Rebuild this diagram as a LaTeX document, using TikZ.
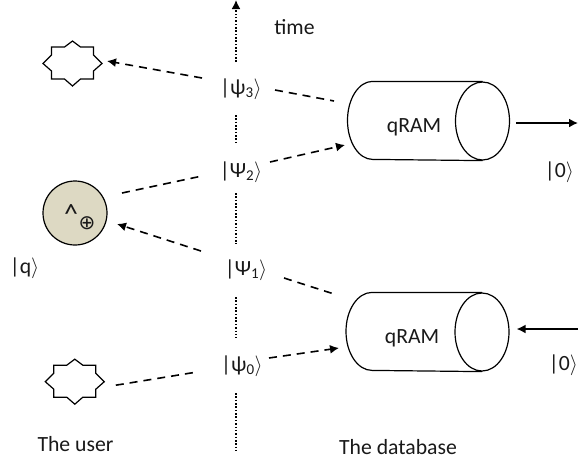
\documentclass[tikz,border=0pt]{standalone}
\usepackage{fontspec}
\setmainfont{Carlito}
\newfontfamily\symfont{DejaVu Sans}
\usetikzlibrary{arrows.meta,shapes.geometric}
\definecolor{khaki}{HTML}{DDD9C3}
\newcommand{\myket}[2]{\textbar#1\raisebox{-0.3ex}{\fontsize{15}{15}\selectfont #2}\kern0.5pt$\rangle$}
\tikzset{
  lbl/.style={inner sep=0pt,font=\fontsize{21.7}{24}\selectfont,text=black!90},
  ket/.style={lbl,minimum width=38,minimum height=24},
  dashln/.style={line width=1.6,dash pattern=on 8 off 6},
  dashar/.style={dashln,-{Latex[length=9,width=9]}},
  dotln/.style={line width=1.6,dash pattern=on 1.6 off 1.75},
  solidar/.style={line width=1.6,-{Latex[length=9,width=9]}},
  capell/.style={ellipse,draw,line width=1.2,minimum width=54,minimum height=78,inner sep=0pt},
  anchorpt/.style={inner sep=0pt,minimum size=0pt},
  hand/.style={line width=1.2,line join=miter},
}
\newcommand{\starshape}[2]{%
  \draw[hand,shift={(#1,#2)}] (0,-22.5) -- (8,-16.5) -- (21,-16.5) -- (21,-8.5) -- (29.5,0) -- (21,7.5) -- (21,15.5) -- (8,15.5) -- (0,22.5) -- (-8,15.5) -- (-21,15.5) -- (-21,7.5) -- (-29.5,0) -- (-21,-8.5) -- (-21,-16.5) -- (-8,-16.5) -- cycle;}
\begin{document}
\begin{tikzpicture}[x=1pt,y=-1pt]
\useasboundingbox (0,0) rectangle (578,464);

% time axis
\coordinate (top) at (236,0);
\coordinate (bottom) at (236,450);
\node[ket] (psi3) at (241,89) {\myket{ψ}{3}};
\node[ket] (psi2) at (241,172) {\myket{Ψ}{2}};
\node[ket] (psi1) at (246,270) {\myket{Ψ}{1}};
\node[ket] (psi0) at (242,366) {\myket{ψ}{0}};
\draw[dotln] ([shift={(-5,-27)}]psi3.center) -- ([shift={(-5,-82)}]psi3.center);
\draw[-{Latex[length=9,width=9]},line width=1.6] ([shift={(-5,-82)}]psi3.center) -- (top);
\draw[dotln] ([shift={(-5,26)}]psi3.center) -- ([shift={(-5,-29)}]psi2.center);
\draw[dotln] ([shift={(-5,21)}]psi2.center) -- ([shift={(-10,-26)}]psi1.center);
\draw[dotln] ([shift={(-10,27)}]psi1.center) -- ([shift={(-6,-28)}]psi0.center);
\draw[dotln] ([shift={(-6,27)}]psi0.center) -- (bottom);

% user side
\node[anchorpt] (star1) at (72.5,63.5) {};
\starshape{72.5}{63.5}
\node[anchorpt] (star0) at (74.8,381.7) {};
\starshape{74.8}{381.7}
\node[circle,draw,line width=1.2,fill=khaki,minimum size=64,inner sep=0pt] (q) at (75,213) {};
\node[lbl] (hat) at (71,214) {\fontsize{28}{28}\selectfont\textasciicircum};
\node[lbl] (oplus) at (87,223) {\symfont\fontsize{20}{20}\selectfont ⊕};
\node[lbl] (qlab) at (24.5,268) {\textbar q$\rangle$};
\node[lbl] (user) at (75.5,444) {The user};

% database side
\node[capell] (cap1) at (482.5,121) {};
\draw[hand] (cap1.north) -- ++(-110,0) arc[start angle=90,end angle=270,x radius=25pt,y radius=39pt] -- (cap1.south);
\node[lbl] (ram1) at (414,127) {qRAM};
\node[capell] (cap2) at (482,332) {};
\draw[hand] (cap2.north) -- ++(-110,0) arc[start angle=90,end angle=270,x radius=26pt,y radius=39pt] -- (cap2.south);
\node[lbl] (ram2) at (412,338) {qRAM};
\node[lbl] (zero1) at (559.5,172) {\textbar 0$\rangle$};
\node[lbl] (zero2) at (563.5,365) {\textbar 0$\rangle$};
\node[lbl] (time) at (294.5,27) {time};
\node[lbl] (db) at (398,447) {The database};
\coordinate (out1) at (578,123);
\coordinate (in2) at (578,329);

% connectors
\draw[dashar] ([shift={(-39,-11)}]psi3.center) -- ([shift={(34.5,-2.5)}]star1.center);
\draw[dashln] ([shift={(34,1)}]psi3.center) -- ([shift={(-148.5,-20)}]cap1.center);
\draw[dashln] ([shift={(47,-20)}]q.center) -- ([shift={(-39,4)}]psi2.center);
\draw[dashar] ([shift={(29,-10)}]psi2.center) -- ([shift={(-137.5,24)}]cap1.center);
\draw[dashar] ([shift={(-45,-19)}]psi1.center) -- ([shift={(42,11)}]q.center);
\draw[dashln] ([shift={(38,8)}]psi1.center) -- ([shift={(-148,-38)}]cap2.center);
\draw[dashln] ([shift={(41,3.5)}]star0.center) -- ([shift={(-45,6)}]psi0.center);
\draw[dashar] ([shift={(27,-8)}]psi0.center) -- ([shift={(-143,16)}]cap2.center);
\draw[solidar] ([shift={(6,2)}]cap1.east) -- (out1);
\draw[solidar] (in2) -- ([shift={(7,-3)}]cap2.east);
\end{tikzpicture}
\end{document}
